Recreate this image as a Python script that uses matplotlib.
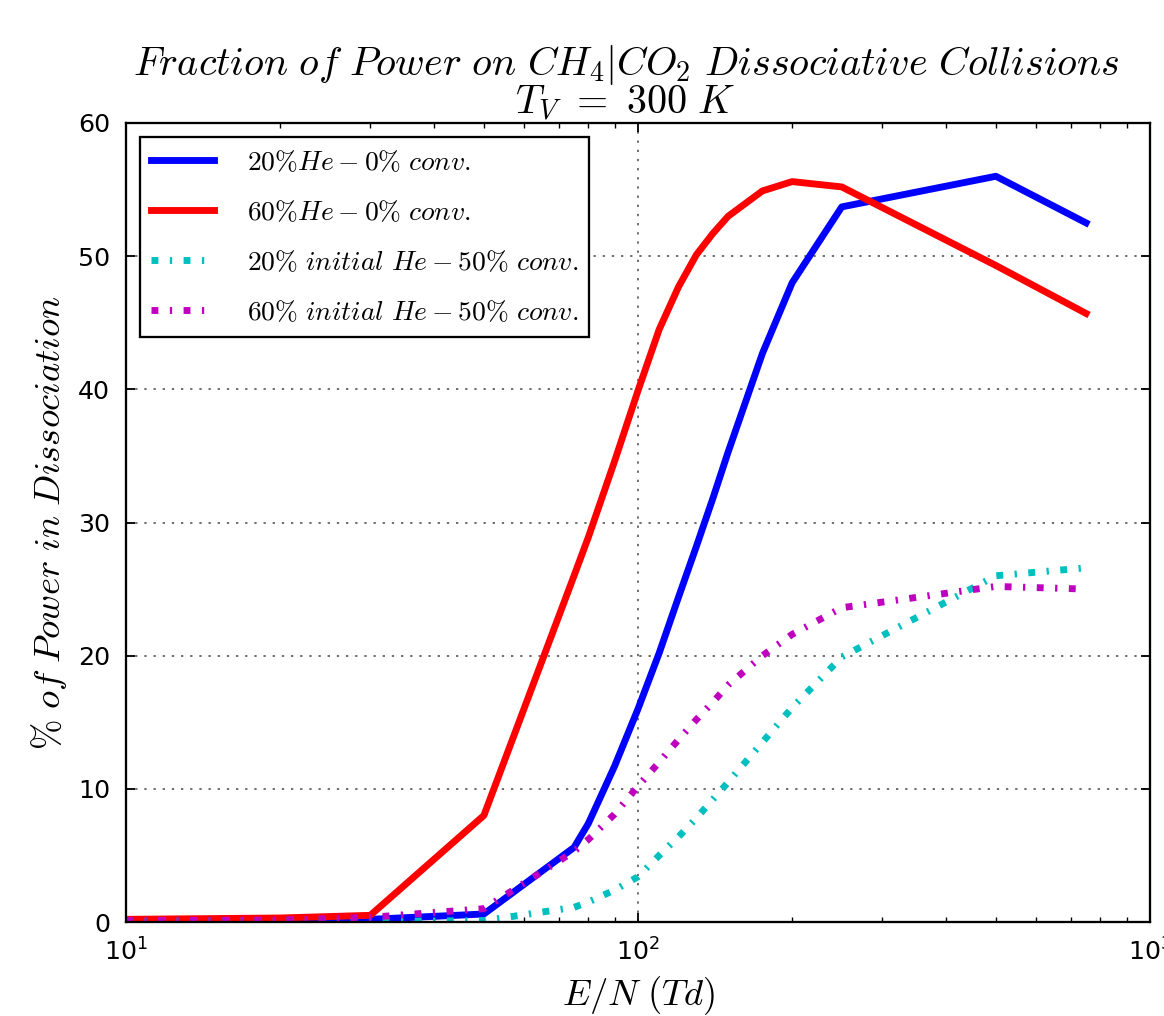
import matplotlib
matplotlib.use('Agg')
from matplotlib import pyplot as plt

# Ayarlar: matematik yazilari Computer Modern ile.
plt.rcParams['mathtext.fontset'] = 'cm'
plt.rcParams['lines.scale_dashes'] = False

# E/N degerleri (Td)
en = [10, 20, 30, 50, 75, 80, 90, 100, 110, 120, 130, 140, 150, 175, 200, 250, 500, 750]

# % guc, dissosiyasyon
he20_conv0 = [0.1, 0.1, 0.2, 0.6, 5.6, 7.4, 11.7, 16.0, 20.2, 24.4, 28.2, 31.8, 35.3, 42.7, 48.0, 53.7, 56.0, 52.5]
he60_conv0 = [0.2, 0.3, 0.5, 8.0, 26.0, 28.9, 34.6, 39.9, 44.5, 47.7, 50.1, 51.7, 53.0, 54.9, 55.6, 55.2, 49.3, 45.7]
he20_conv50 = [0.05, 0.05, 0.05, 0.1, 1.1, 1.5, 2.4, 3.4, 5.0, 6.4, 7.8, 9.2, 10.5, 13.5, 16.1, 19.9, 26.0, 26.6]
he60_conv50 = [0.1, 0.15, 0.35, 1.0, 5.3, 6.2, 8.1, 10.2, 12.0, 13.7, 15.2, 16.5, 17.8, 20.0, 21.6, 23.6, 25.2, 25.0]

etiketler = [r'$20\%He-0\%\ conv.$', r'$60\%He-0\%\ conv.$',
             r'$20\%\ initial\ He-50\%\ conv.$', r'$60\%\ initial\ He-50\%\ conv.$']

fig = plt.figure(figsize=(1164 / 165, 1016 / 165), dpi=165)
ax = fig.add_axes([126 / 1164, 94 / 1016, 1024 / 1164, 799 / 1016])

ax.plot(en, he20_conv0, color='b', lw=3, label=etiketler[0])
ax.plot(en, he60_conv0, color='r', lw=3, label=etiketler[1])
ax.plot(en, he20_conv50, color='c', lw=3, linestyle=(0, (3, 5, 1, 5)), label=etiketler[2])
ax.plot(en, he60_conv50, color='m', lw=3, linestyle=(0, (3, 5, 1, 5)), label=etiketler[3])

ax.set_xscale('log')
ax.set_xlim(10, 1000)
ax.set_ylim(0, 60)
ax.set_yticks(range(0, 61, 10))

ax.grid(True, which='major', color='0.4', linestyle=(0, (1, 3)), lw=0.8)
ax.tick_params(which='both', direction='in', top=True, right=True, labelsize=11, pad=7)
ax.tick_params(which='major', length=4)
ax.tick_params(which='minor', length=2)
for s in ax.spines.values():
    s.set_linewidth(1.0)

ax.set_title(r'$Fraction\ of\ Power\ on\ CH_4|CO_2\ Dissociative\ Collisions$' + '\n' + r'$T_V\ =\ 300\ K$',
             fontsize=17.5, pad=4, linespacing=0.85, x=0.488)
ax.set_xlabel(r'$E/N\ (Td)$', fontsize=16, labelpad=4)
ax.set_ylabel(r'$\%\ of\ Power\ in\ Dissociation$', fontsize=16)

leg = ax.legend(loc='upper left', fontsize=12, fancybox=False, framealpha=1,
                edgecolor='black', handlelength=2.3, handletextpad=1.2, labelspacing=0.8)
leg.get_frame().set_linewidth(1.0)

plt.savefig('out.png', dpi=165)
